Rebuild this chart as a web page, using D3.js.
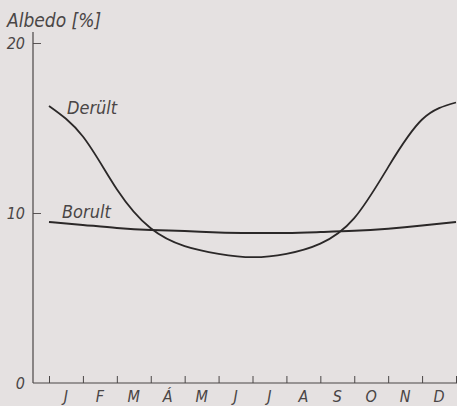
<!DOCTYPE html>
<html>
<head>
<meta charset="utf-8">
<script src="https://cdn.jsdelivr.net/npm/d3@7"></script>
<style>
  html, body { margin: 0; padding: 0; background: #e5e1e1; }
  svg { display: block; }
  text { font-family: "Liberation Sans Narrow", "DejaVu Sans Condensed", "Open Sans", sans-serif; font-style: italic; fill: #4a4646; }
</style>
</head>
<body>
<svg id="chart" width="457" height="406"></svg>
<script>
// Month labels (Hungarian)
const months = ["J", "F", "M", "Á", "M", "J", "J", "A", "S", "O", "N", "D"];
// Albedo [%] at month boundaries (1 Jan ... 31 Dec), 13 points
const boundaries = d3.range(13);
const derult = [16.3, 14.5, 11.4, 9.1, 8.05, 7.6, 7.4, 7.6, 8.2, 9.7, 12.7, 15.5, 16.5];
const borult = [9.47, 9.3, 9.12, 9.0, 8.94, 8.86, 8.83, 8.83, 8.88, 8.95, 9.08, 9.26, 9.47];
const yTicks = [0, 10, 20];

const svg = d3.select("#chart");
const axisX0 = 33, axisRight = 457, yBottom = 383;

const x = d3.scaleLinear().domain([0, 12]).range([49, 456]);
const xm = d3.scaleBand().domain(d3.range(12)).range([49, 456]);
const y = d3.scaleLinear().domain([0, 20]).range([yBottom, 43]);

// Y axis: inward ticks, labels on the left
const yAxis = svg.append("g")
  .attr("transform", `translate(${axisX0},0)`)
  .call(d3.axisLeft(y).tickValues(yTicks).tickSize(-8).tickPadding(8).tickFormat(d3.format("d")));
yAxis.select(".domain").remove();
yAxis.attr("font-family", null).attr("font-size", null);
yAxis.selectAll(".tick line").attr("stroke", "#5a5555").attr("stroke-width", 1)
  .filter(d => d === 0).remove();
yAxis.selectAll(".tick text").attr("font-size", 16).attr("dy", "0.35em");

svg.append("line")
  .attr("x1", axisX0).attr("x2", axisX0)
  .attr("y1", 32).attr("y2", yBottom)
  .attr("stroke", "#4a4646").attr("stroke-width", 1.2);

// X axis: ticks at month boundaries, labels centred on months
const xAxis = svg.append("g")
  .attr("transform", `translate(0,${yBottom})`)
  .call(d3.axisBottom(x).tickValues(boundaries).tickSize(-7).tickFormat(""));
xAxis.select(".domain").remove();
xAxis.selectAll(".tick line").attr("stroke", "#4a4646").attr("stroke-width", 1);

svg.append("line")
  .attr("x1", axisX0).attr("x2", axisRight)
  .attr("y1", yBottom).attr("y2", yBottom)
  .attr("stroke", "#4a4646").attr("stroke-width", 1.2);

const xLab = svg.append("g")
  .attr("transform", `translate(0,${yBottom})`)
  .call(d3.axisBottom(xm).tickSize(0).tickPadding(8).tickFormat(i => months[i]));
xLab.select(".domain").remove();
xLab.attr("font-family", null).attr("font-size", null);
xLab.selectAll(".tick text").attr("font-size", 16).attr("dy", "0.71em");

// Y axis title
svg.append("text")
  .attr("x", 7).attr("y", 27)
  .attr("font-size", 19)
  .text("Albedo [%]");

// Series curves
const line = d3.line()
  .x((d, i) => x(boundaries[i]))
  .y(d => y(d))
  .curve(d3.curveNatural);

svg.append("path").datum(derult)
  .attr("d", line)
  .attr("fill", "none").attr("stroke", "#2b2828").attr("stroke-width", 1.8);
svg.append("path").datum(borult)
  .attr("d", line)
  .attr("fill", "none").attr("stroke", "#2b2828").attr("stroke-width", 2);

// Series labels
svg.append("text").attr("x", 67).attr("y", 114).attr("font-size", 18).text("Derült");
svg.append("text").attr("x", 62).attr("y", 218).attr("font-size", 18).text("Borult");
</script>
</body>
</html>
